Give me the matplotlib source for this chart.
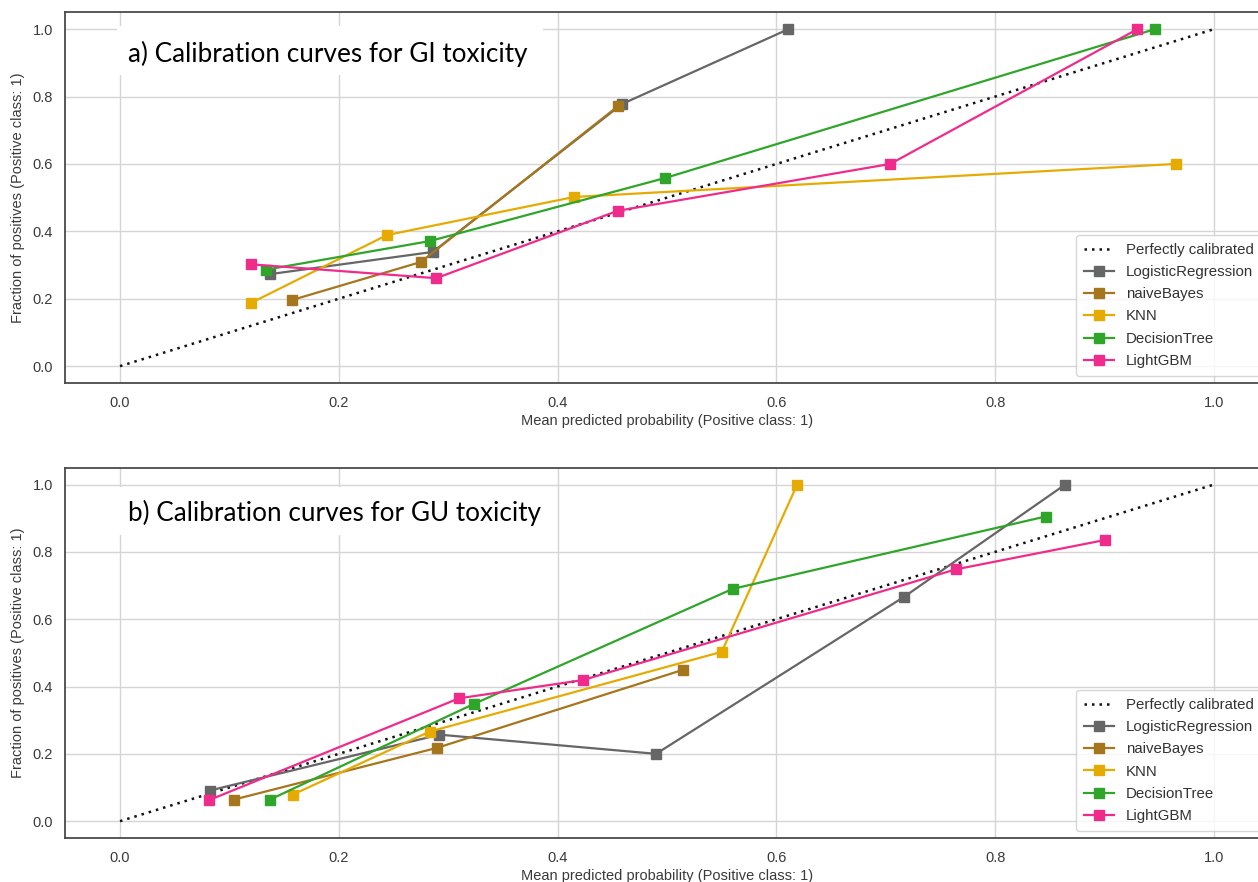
import matplotlib
matplotlib.use("Agg")
import matplotlib.pyplot as plt
from matplotlib.patches import Rectangle

# ---------------- data ----------------
models = ["LogisticRegression", "naiveBayes", "KNN", "DecisionTree", "LightGBM"]
colors = ["#666666", "#a6761d", "#e6ab02", "#2fa52a", "#ef2b8c"]

# Panel a) GI toxicity
gi_lr_x = [0.137, 0.286, 0.459, 0.611]
gi_lr_y = [0.273, 0.339, 0.778, 1.000]
gi_nb_x = [0.157, 0.275, 0.455]
gi_nb_y = [0.196, 0.309, 0.771]
gi_knn_x = [0.120, 0.244, 0.415, 0.965]
gi_knn_y = [0.188, 0.389, 0.502, 0.600]
gi_dt_x = [0.133, 0.283, 0.498, 0.946]
gi_dt_y = [0.286, 0.371, 0.558, 1.000]
gi_lgb_x = [0.120, 0.289, 0.455, 0.704, 0.930]
gi_lgb_y = [0.302, 0.261, 0.461, 0.600, 1.000]

# Panel b) GU toxicity
gu_lr_x = [0.082, 0.292, 0.490, 0.717, 0.864]
gu_lr_y = [0.091, 0.257, 0.200, 0.667, 1.000]
gu_nb_x = [0.104, 0.290, 0.515]
gu_nb_y = [0.064, 0.218, 0.450]
gu_knn_x = [0.158, 0.283, 0.550, 0.619]
gu_knn_y = [0.079, 0.266, 0.503, 1.000]
gu_dt_x = [0.137, 0.324, 0.560, 0.846]
gu_dt_y = [0.064, 0.349, 0.690, 0.905]
gu_lgb_x = [0.081, 0.310, 0.423, 0.764, 0.900]
gu_lgb_y = [0.062, 0.365, 0.419, 0.748, 0.835]

ticks = [0.0, 0.2, 0.4, 0.6, 0.8, 1.0]
tick_labels = ["0.0", "0.2", "0.4", "0.6", "0.8", "1.0"]
titles = ["a) Calibration curves for GI toxicity", "b) Calibration curves for GU toxicity"]
xlabel = "Mean predicted probability (Positive class: 1)"
ylabel = "Fraction of positives (Positive class: 1)"

panels = [
    [(gi_lr_x, gi_lr_y), (gi_nb_x, gi_nb_y), (gi_knn_x, gi_knn_y), (gi_dt_x, gi_dt_y), (gi_lgb_x, gi_lgb_y)],
    [(gu_lr_x, gu_lr_y), (gu_nb_x, gu_nb_y), (gu_knn_x, gu_knn_y), (gu_dt_x, gu_dt_y), (gu_lgb_x, gu_lgb_y)],
]

# ---------------- figure ----------------
plt.rcParams["font.family"] = ["Liberation Sans", "DejaVu Sans"]
W, H = 1258, 882
fig = plt.figure(figsize=(W / 100, H / 100), dpi=100)
fig.patch.set_facecolor("white")

# axes rectangles in pixel units (left, top, right, bottom)
rects = [(65.3, 12.3, 1268.7, 383.0), (65.3, 467.7, 1268.7, 838.0)]
boxes = [(0.831, 0.963), (0.818, 0.948)]
text_y = [0.866, 0.856]

for i, (l, t, r, b) in enumerate(rects):
    ax = fig.add_axes([l / W, 1 - b / H, (r - l) / W, (b - t) / H])
    ax.set_facecolor("white")
    ax.set_xlim(-0.05, 1.05)
    ax.set_ylim(-0.05, 1.05)
    ax.grid(True, color="#d5d5d5", linewidth=1.0)
    ax.set_axisbelow(True)
    for sp in ax.spines.values():
        sp.set_color("#4a4a4a")
        sp.set_linewidth(1.3)
    ax.tick_params(length=0, pad=9, labelsize=10.5, labelcolor="#3a3a3a")
    ax.set_xticks(ticks)
    ax.set_xticklabels(tick_labels)
    ax.set_yticks(ticks)
    ax.set_yticklabels(tick_labels)
    ax.set_xlabel(xlabel, fontsize=10.5, color="#3a3a3a", labelpad=3)
    ax.set_ylabel(ylabel, fontsize=10.5, color="#3a3a3a", labelpad=5)

    ax.plot([0, 1], [0, 1], linestyle=(0, (1, 2.0)), color="#111111", linewidth=1.8,
            label="Perfectly calibrated", zorder=2)
    for name, col, (xs, ys) in zip(models, colors, panels[i]):
        ax.plot(xs, ys, marker="s", markersize=7, color=col, linewidth=1.6,
                label=name, zorder=3)

    y0, y1 = boxes[i]
    ax.add_patch(Rectangle((0.043, y0), 0.354, y1 - y0, transform=ax.transAxes,
                           facecolor="white", edgecolor="none", zorder=1))
    ax.text(0.052, text_y[i], titles[i], transform=ax.transAxes, fontsize=18.8,
            family=["Lato", "DejaVu Sans"], color="black", va="baseline", ha="left", zorder=4)

    leg = ax.legend(loc="lower right", fontsize=10.8, frameon=True, fancybox=True,
                    handlelength=2.0, labelspacing=0.55, borderpad=0.5)
    leg.get_frame().set_edgecolor("#cccccc")
    leg.get_frame().set_linewidth(1.0)
    for txt in leg.get_texts():
        txt.set_color("#333333")

fig.savefig("out.png", dpi=100, facecolor="white")
